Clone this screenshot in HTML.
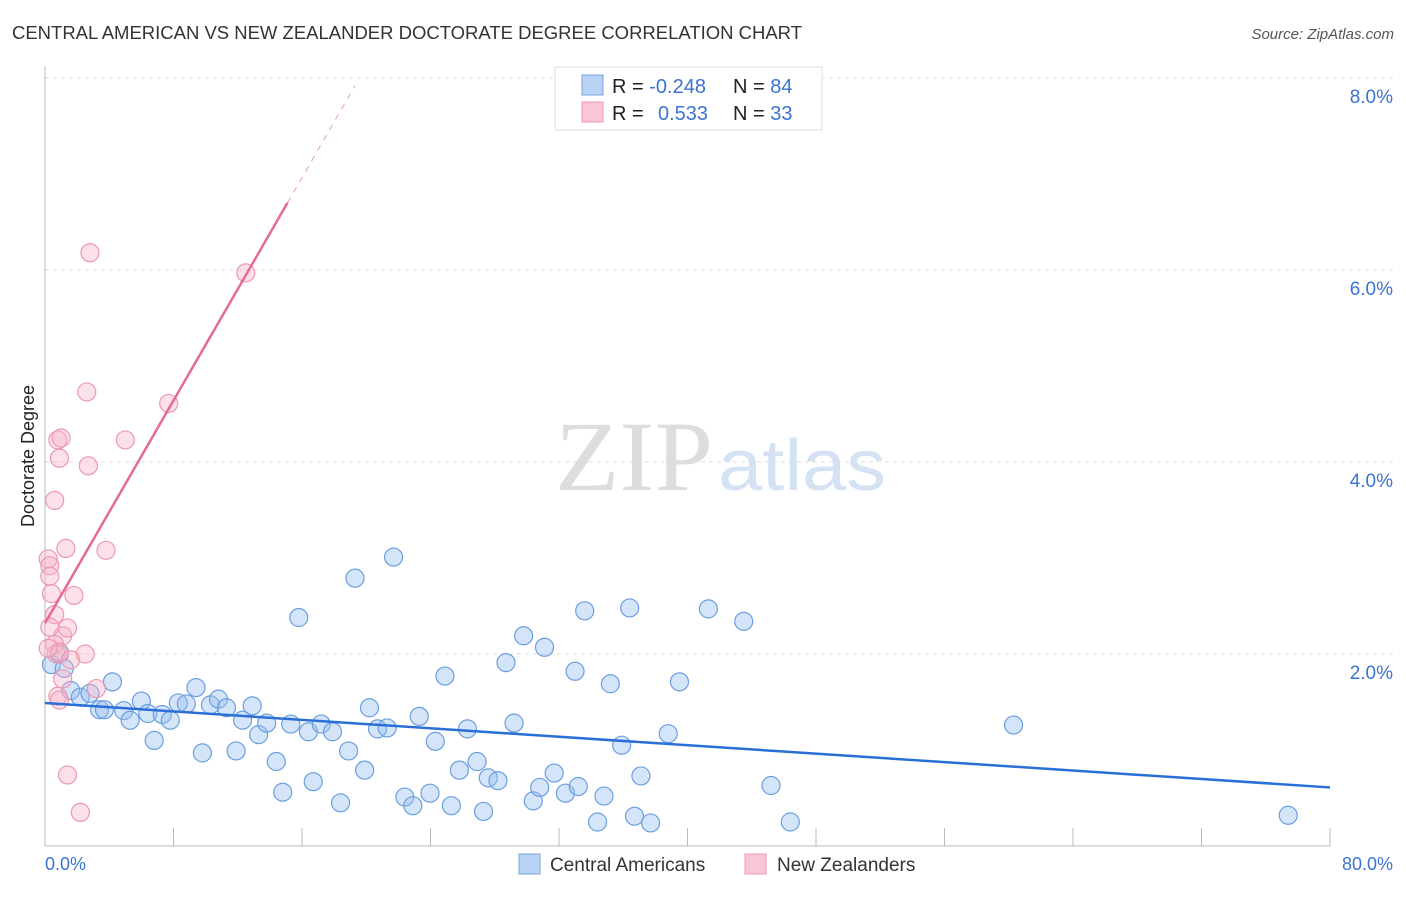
<!DOCTYPE html>
<html><head><meta charset="utf-8"><style>
body{margin:0;background:#fff;font-family:"Liberation Sans",sans-serif;}
</style></head><body>
<svg width="1406" height="892" xmlns="http://www.w3.org/2000/svg">
<text x="12" y="39" font-size="18" fill="#333" textLength="790" lengthAdjust="spacingAndGlyphs">CENTRAL AMERICAN VS NEW ZEALANDER DOCTORATE DEGREE CORRELATION CHART</text>
<text x="1394" y="39" font-size="15" fill="#555" font-style="italic" text-anchor="end">Source: ZipAtlas.com</text>
<text x="555" y="490" font-size="100" fill="#ddd" font-family="Liberation Serif" textLength="158" lengthAdjust="spacingAndGlyphs">ZIP</text>
<text x="718" y="490" font-size="72" fill="#d4e2f4" textLength="168" lengthAdjust="spacingAndGlyphs">atlas</text>
<g id="grid"></g>
<line x1="45" y1="66" x2="45" y2="846" stroke="#bbb"/>
<line x1="45" y1="846" x2="1330" y2="846" stroke="#bbb"/>
<g id="ticks"></g>
<text transform="translate(34,456) rotate(-90)" font-size="18" fill="#222" text-anchor="middle">Doctorate Degree</text>
<text x="45" y="870" font-size="18" fill="#3b74d0">0.0%</text>
<text x="1393" y="870" font-size="18" fill="#3b74d0" text-anchor="end">80.0%</text>
<g id="pts"></g>
<g id="lines"></g>
<g>
<rect x="555" y="67" width="267" height="63" fill="#fff" stroke="#ddd"/>
<rect x="582" y="75" width="21" height="20" fill="#b8d2f4" stroke="#7aa6e3"/>
<rect x="582" y="102" width="21" height="20" fill="#f9c6d5" stroke="#ee9ab3"/>
<text x="612" y="93" font-size="20" fill="#222">R = <tspan fill="#3b74d0">-0.248</tspan></text>
<text x="733" y="93" font-size="20" fill="#222">N = <tspan fill="#3b74d0">84</tspan></text>
<text x="612" y="120" font-size="20" fill="#222">R = <tspan fill="#3b74d0" x="658">0.533</tspan></text>
<text x="733" y="120" font-size="20" fill="#222">N = <tspan fill="#3b74d0">33</tspan></text>
</g>
<g>
<rect x="519" y="854" width="21" height="20" fill="#b8d2f4" stroke="#7aa6e3"/>
<text x="550" y="871" font-size="19" fill="#333">Central Americans</text>
<rect x="745" y="854" width="21" height="20" fill="#f9c6d5" stroke="#ee9ab3"/>
<text x="777" y="871" font-size="19" fill="#333">New Zealanders</text>
</g>
</svg>
<script>
const yTicks=[2,4,6,8];
const yTickLabels=["2.0%","4.0%","6.0%","8.0%"];
const xTicks=[0,8,16,24,32,40,48,56,64,72,80];
const blueX=[0.4,0.9,1.2,1.6,2.2,2.8,3.4,3.7,4.2,4.9,5.3,6.0,6.4,6.8,7.3,7.8,8.3,8.8,9.4,9.8,10.3,10.8,11.3,11.9,12.3,12.9,13.3,13.8,14.4,14.8,15.3,15.8,16.4,16.7,17.2,17.9,18.4,18.9,19.3,19.9,20.2,20.7,21.3,21.7,22.4,22.9,23.3,23.97,24.3,24.9,25.3,25.8,26.3,26.9,27.3,27.6,28.2,28.7,29.2,29.8,30.4,30.8,31.1,31.7,32.4,33.0,33.2,33.6,34.4,34.8,35.2,35.9,36.4,36.7,37.1,37.7,38.8,39.5,41.3,43.5,45.2,46.4,60.3,77.4];
const blueY=[1.89,2.0,1.85,1.62,1.55,1.59,1.42,1.42,1.71,1.41,1.31,1.51,1.38,1.1,1.37,1.31,1.49,1.48,1.65,0.97,1.47,1.53,1.44,0.99,1.31,1.46,1.16,1.28,0.88,0.56,1.27,2.38,1.19,0.67,1.27,1.19,0.45,0.99,2.79,0.79,1.44,1.22,1.23,3.01,0.51,0.42,1.35,0.55,1.09,1.77,0.42,0.79,1.22,0.88,0.36,0.71,0.68,1.91,1.28,2.19,0.47,0.61,2.07,0.76,0.55,1.82,0.62,2.45,0.25,0.52,1.69,1.05,2.48,0.31,0.73,0.24,1.17,1.71,2.47,2.34,0.63,0.25,1.26,0.32];
const pinkX=[0.2,0.3,0.3,0.4,0.6,0.6,0.8,0.9,1.1,0.6,0.7,0.9,1.3,1.4,1.6,1.8,1.4,2.2,2.5,2.6,2.7,2.8,3.2,3.8,5.0,7.7,12.5,1.0,0.8,1.1,0.3,0.2,0.9];
const pinkY=[2.99,2.92,2.81,2.63,2.41,3.6,4.23,4.04,2.19,2.1,2.0,2.02,3.1,2.27,1.94,2.61,0.74,0.35,2.0,4.73,3.96,6.18,1.64,3.08,4.23,4.61,5.97,4.25,1.56,1.74,2.28,2.06,1.52];
const X0=45,X1=1330,Y0=846,YS=96;
const sx=v=>X0+(X1-X0)*v/80, sy=v=>Y0-v*YS;
const NS="http://www.w3.org/2000/svg";
function mk(t,a,p){const e=document.createElementNS(NS,t);for(const k in a)e.setAttribute(k,a[k]);p.appendChild(e);return e;}
const grid=document.getElementById('grid'),ticks=document.getElementById('ticks'),pts=document.getElementById('pts'),lines=document.getElementById('lines');
yTicks.forEach((v,i)=>{
 const l=mk('line',{x1:45,x2:1393,y1:sy(v),y2:sy(v),stroke:'#ddd','stroke-dasharray':'4,4'},grid);
 
 
 const t=mk('text',{x:1393,y:sy(v)+25,'font-size':19,fill:'#3b74d0','text-anchor':'end'},grid);
 t.textContent=yTickLabels[i];
 
 
});
xTicks.forEach(v=>{
 const l=mk('line',{x1:sx(v),x2:sx(v),y1:828,y2:846,stroke:'#bbb'},ticks);
 
 
});
blueX.forEach((x,i)=>{
 const c=mk('circle',{cx:sx(x),cy:sy(blueY[i]),r:9,fill:'rgba(150,190,240,0.4)',stroke:'#6b9ee0','stroke-width':1.2},pts);
 
 
});
pinkX.forEach((x,i)=>{
 const c=mk('circle',{cx:sx(x),cy:sy(pinkY[i]),r:9,fill:'rgba(248,180,200,0.4)',stroke:'#ec98b2','stroke-width':1.2},pts);
 
 
});
const bl=mk('line',{x1:sx(0),y1:sy(1.49),x2:sx(80),y2:sy(0.61),stroke:'#2a6fd6','stroke-width':2.5},lines);


const pl=mk('line',{x1:sx(0),y1:sy(2.32),x2:sx(15.1),y2:sy(6.7),stroke:'#e56b95','stroke-width':2.5},lines);


const pd=mk('line',{x1:sx(15.1),y1:sy(6.7),x2:sx(19.3),y2:sy(7.92),stroke:'#e9a0ba','stroke-width':1,'stroke-dasharray':'6,6'},lines);


</script>
</body></html>
